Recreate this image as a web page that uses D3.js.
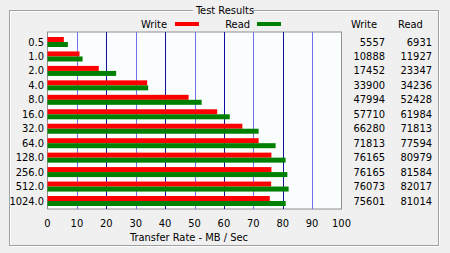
<!DOCTYPE html>
<html>
<head>
<meta charset="utf-8">
<script src="https://cdn.jsdelivr.net/npm/d3@7"></script>
<style>
  html, body { margin: 0; padding: 0; background: #f0f0f0; }
  svg { display: block; }
  text { font-family: "Liberation Sans Narrow", "DejaVu Sans Condensed", "Liberation Sans", sans-serif; font-size: 11px; fill: #000; }
</style>
</head>
<body>
<svg id="chart"></svg>
<script>
// block sizes (KB) and measured transfer rates (KB/s)
const sizes = ["0.5", "1.0", "2.0", "4.0", "8.0", "16.0", "32.0", "64.0", "128.0", "256.0", "512.0", "1024.0"];
const writeVals = [5557, 10888, 17452, 33900, 47994, 57710, 66280, 71813, 76165, 76165, 76073, 75601];
const readVals = [6931, 11927, 23347, 34236, 52428, 61984, 71813, 77594, 80979, 81584, 82017, 81014];
const xTicks = [0, 10, 20, 30, 40, 50, 60, 70, 80, 90, 100];

const w = 450, h = 253;
const svg = d3.select("#chart").attr("width", w).attr("height", h);

// group box
svg.append("rect").attr("x", 10.5).attr("y", 11.5).attr("width", 429).attr("height", 235)
  .attr("fill", "none").attr("stroke", "#fff");
svg.append("rect").attr("x", 9.5).attr("y", 10.5).attr("width", 429).attr("height", 235)
  .attr("fill", "none").attr("stroke", "#a0a0a0");
svg.append("rect").attr("x", 193).attr("y", 4).attr("width", 60).attr("height", 12).attr("fill", "#f0f0f0");
svg.append("text").attr("x", 225).attr("y", 10).attr("text-anchor", "middle")
  .attr("dominant-baseline", "central").text("Test Results");

const x = d3.scaleLinear().domain([0, 100]).range([47.5, 341.5]);
const y = d3.scalePoint().domain(sizes).range([42, 201]);
const plotTop = 32, plotBottom = 209;

// plot area
svg.append("rect").attr("x", x(0)).attr("y", plotTop).attr("width", x(100) - x(0))
  .attr("height", plotBottom - plotTop).attr("fill", "#f9fdfd").attr("stroke", "#909090");

// grid lines
svg.selectAll(".grid").data(xTicks.filter(d => d > 0 && d < 100)).enter().append("line")
  .attr("x1", d => Math.round(x(d)) + 0.5).attr("x2", d => Math.round(x(d)) + 0.5)
  .attr("y1", plotTop).attr("y2", plotBottom)
  .attr("stroke", d => (d / 10) % 2 ? "#7070ee" : "#10109a");

// bars
const barH = 5;
svg.selectAll(".wbar").data(writeVals).enter().append("rect")
  .attr("x", x(0)).attr("y", (d, i) => y(sizes[i]) - barH)
  .attr("width", d => x(d / 1000) - x(0)).attr("height", barH).attr("fill", "#ff0000");
svg.selectAll(".rbar").data(readVals).enter().append("rect")
  .attr("x", x(0)).attr("y", (d, i) => y(sizes[i]))
  .attr("width", d => x(d / 1000) - x(0)).attr("height", barH).attr("fill", "#008000");

// category labels
svg.selectAll(".cat").data(sizes).enter().append("text")
  .attr("x", 44).attr("y", d => y(d)).attr("text-anchor", "end")
  .attr("dominant-baseline", "central").text(d => d);

// x axis labels
svg.selectAll(".xt").data(xTicks).enter().append("text")
  .attr("x", d => x(d)).attr("y", 223).attr("text-anchor", "middle")
  .attr("dominant-baseline", "central").text(d => d);
svg.append("text").attr("x", 189).attr("y", 237).attr("text-anchor", "middle")
  .attr("dominant-baseline", "central").text("Transfer Rate - MB / Sec");

// legend
svg.append("text").attr("x", 167).attr("y", 24).attr("text-anchor", "end")
  .attr("dominant-baseline", "central").text("Write");
svg.append("rect").attr("x", 175).attr("y", 22).attr("width", 24).attr("height", 4).attr("fill", "#ff0000");
svg.append("text").attr("x", 250).attr("y", 24).attr("text-anchor", "end")
  .attr("dominant-baseline", "central").text("Read");
svg.append("rect").attr("x", 257).attr("y", 22).attr("width", 24).attr("height", 4).attr("fill", "#008000");

// value table
svg.append("text").attr("x", 351).attr("y", 24).attr("dominant-baseline", "central").text("Write");
svg.append("text").attr("x", 398).attr("y", 24).attr("dominant-baseline", "central").text("Read");
svg.selectAll(".wv").data(writeVals).enter().append("text")
  .attr("x", 385).attr("y", (d, i) => y(sizes[i])).attr("text-anchor", "end")
  .attr("dominant-baseline", "central").text(d => d);
svg.selectAll(".rv").data(readVals).enter().append("text")
  .attr("x", 432).attr("y", (d, i) => y(sizes[i])).attr("text-anchor", "end")
  .attr("dominant-baseline", "central").text(d => d);
</script>
</body>
</html>
